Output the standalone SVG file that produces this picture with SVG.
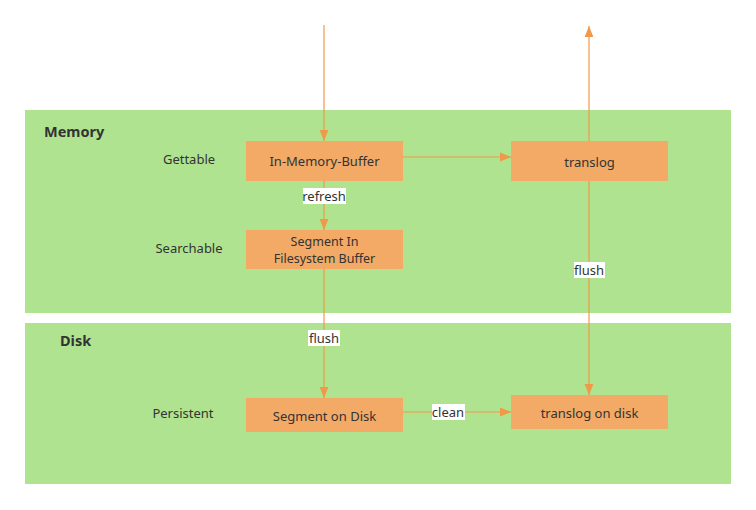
<svg xmlns="http://www.w3.org/2000/svg" width="756" height="510" viewBox="0 0 756 510">
<style>
.panel{fill:#b0e38f}
.box{fill:#f2aa66}
.t{font-family:"Noto Sans","Open Sans",sans-serif;font-size:13px;fill:#333;text-anchor:middle;dominant-baseline:central}
.t2{font-family:"Noto Sans","Open Sans",sans-serif;font-size:12.5px;fill:#333;text-anchor:middle;dominant-baseline:central}
.h{font-family:"Noto Sans","Open Sans",sans-serif;font-size:14.5px;font-weight:bold;fill:#333;dominant-baseline:central}
.e{stroke:#f0994a;stroke-width:1.2;fill:none}
.lb{fill:#fff}
</style>
<defs>
<marker id="ah" viewBox="0 0 10 10" refX="10" refY="5" markerWidth="11" markerHeight="11" markerUnits="userSpaceOnUse" orient="auto">
<path d="M0,1 L10,5 L0,9 Z" fill="#f0994a"/>
</marker>
</defs>
<rect width="756" height="510" fill="#fff"/>
<g id="memory"><rect class="panel" x="25" y="110" width="706" height="203"/><text class="h" x="44" y="131">Memory</text></g>
<g id="disk"><rect class="panel" x="25" y="323" width="706" height="161"/><text class="h" x="60" y="340">Disk</text></g>
<g id="lbl-gettable"><text class="t" x="189" y="159">Gettable</text></g>
<g id="lbl-searchable"><text class="t" x="189" y="248">Searchable</text></g>
<g id="lbl-persistent"><text class="t" x="183" y="413">Persistent</text></g>
<g id="connectors">
<line class="e" x1="324" y1="25" x2="324" y2="141" marker-end="url(#ah)"/>
<line class="e" x1="324" y1="181" x2="324" y2="230" marker-end="url(#ah)"/>
<line class="e" x1="324" y1="269" x2="324" y2="398" marker-end="url(#ah)"/>
<line class="e" x1="403" y1="157" x2="511" y2="157" marker-end="url(#ah)"/>
<line class="e" x1="589" y1="141" x2="589" y2="26" marker-end="url(#ah)"/>
<line class="e" x1="589" y1="181" x2="589" y2="395" marker-end="url(#ah)"/>
<line class="e" x1="403" y1="412" x2="511" y2="412" marker-end="url(#ah)"/>
<rect class="lb" x="303" y="188" width="43" height="16"/><text class="t" x="324" y="196">refresh</text>
<rect class="lb" x="308" y="330" width="32" height="16"/><text class="t" x="324" y="338">flush</text>
<rect class="lb" x="574" y="262" width="31" height="16"/><text class="t" x="589" y="270">flush</text>
<rect class="lb" x="432" y="404" width="33" height="16"/><text class="t" x="448" y="412">clean</text>
</g>
<g id="imb"><rect class="box" x="246" y="141" width="157" height="40"/><text class="t" x="324.5" y="161">In-Memory-Buffer</text></g>
<g id="sfb"><rect class="box" x="246" y="230" width="157" height="39"/><text class="t2" x="324.5" y="241">Segment In</text><text class="t2" x="324.5" y="258">Filesystem Buffer</text></g>
<g id="translog"><rect class="box" x="511" y="141" width="157" height="40"/><text class="t" x="589.5" y="162">translog</text></g>
<g id="sod"><rect class="box" x="246" y="398" width="157" height="34"/><text class="t" x="324.5" y="416">Segment on Disk</text></g>
<g id="tod"><rect class="box" x="511" y="395" width="157" height="34"/><text class="t" x="589.5" y="413">translog on disk</text></g>
</svg>
